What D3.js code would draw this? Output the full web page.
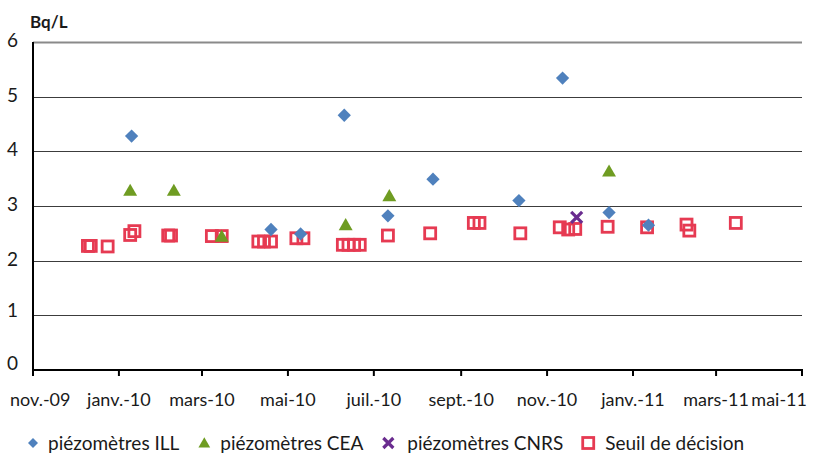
<!DOCTYPE html>
<html>
<head>
<meta charset="utf-8">
<script src="https://cdn.jsdelivr.net/npm/d3@7"></script>
<style>
  html, body { margin: 0; padding: 0; background: #fff; }
  svg { display: block; font-family: Lato, "Open Sans", sans-serif; }
</style>
</head>
<body>
<svg id="chart" width="813" height="455"></svg>
<script>
// ---- data ----
const illDates   = ["2010-01-10","2010-04-19","2010-05-10","2010-06-10","2010-07-11","2010-08-12","2010-10-12","2010-11-12","2010-12-15","2011-01-12"];
const illValues  = [4.28, 2.57, 2.49, 4.66, 2.82, 3.49, 3.10, 5.34, 2.88, 2.65];

const ceaDates   = ["2010-01-09","2010-02-09","2010-03-15","2010-06-11","2010-07-12","2010-12-15"];
const ceaValues  = [3.28, 3.28, 2.44, 2.65, 3.18, 3.63];

const cnrsDates  = ["2010-11-22"];
const cnrsValues = [2.79];

const seuilDates = ["2009-12-10","2009-12-12","2009-12-24","2010-01-09","2010-01-12","2010-02-05","2010-02-07",
                    "2010-03-08","2010-03-15","2010-04-10","2010-04-14","2010-04-19","2010-05-07","2010-05-12",
                    "2010-06-09","2010-06-13","2010-06-17","2010-06-21","2010-07-11","2010-08-10","2010-09-10",
                    "2010-09-14","2010-10-13","2010-11-10","2010-11-16","2010-11-21","2010-12-14","2011-01-11",
                    "2011-02-08","2011-02-10","2011-03-15"];
const seuilValues = [2.27, 2.27, 2.26, 2.47, 2.54, 2.46, 2.46,
                     2.45, 2.45, 2.35, 2.35, 2.35, 2.41, 2.41,
                     2.29, 2.29, 2.29, 2.29, 2.46, 2.50, 2.69,
                     2.69, 2.50, 2.61, 2.57, 2.58, 2.62, 2.61,
                     2.66, 2.55, 2.69];

const xTickDates = ["2009-11-01","2010-01-01","2010-03-01","2010-05-01","2010-07-01","2010-09-01","2010-11-01","2011-01-01","2011-03-01","2011-05-01"];
const yTicks = [0, 1, 2, 3, 4, 5, 6];
const seriesNames = ["piézomètres ILL", "piézomètres CEA", "piézomètres CNRS", "Seuil de décision"];
const unitLabel = "Bq/L";

// ---- setup ----
const parse = d3.utcParse("%Y-%m-%d");
const fr = d3.timeFormatLocale({
  dateTime: "%A %e %B %Y à %X", date: "%d/%m/%Y", time: "%H:%M:%S", periods: ["AM","PM"],
  days: ["dimanche","lundi","mardi","mercredi","jeudi","vendredi","samedi"],
  shortDays: ["dim.","lun.","mar.","mer.","jeu.","ven.","sam."],
  months: ["janvier","février","mars","avril","mai","juin","juillet","août","septembre","octobre","novembre","décembre"],
  shortMonths: ["janv.","févr.","mars","avr.","mai","juin","juil.","août","sept.","oct.","nov.","déc."]
});
const fmt = fr.utcFormat("%b-%y");

const svg = d3.select("#chart");
const plotL = 33, plotR = 802, plotT = 42, plotB = 370;

const x = d3.scaleUtc().domain([parse(xTickDates[0]), parse(xTickDates[xTickDates.length-1])]).range([plotL, plotR]);
const y = d3.scaleLinear().domain([0, 6]).range([plotB, plotT]);

const colors = { ill: "#4f81bd", cea: "#6f9c22", cnrs: "#6a2c8f", seuil: "#e63a52" };

// gridlines
svg.append("g").selectAll("line").data(yTicks.filter(v => v > 0)).join("line")
  .attr("x1", plotL).attr("x2", plotR)
  .attr("y1", d => Math.round(y(d)) + 0.5).attr("y2", d => Math.round(y(d)) + 0.5)
  .attr("stroke", d => d === 6 ? "#8a8a8a" : "#3c3c3c")
  .attr("stroke-width", d => d === 6 ? 1.8 : 1);

// y labels
svg.append("g").selectAll("text").data(yTicks).join("text")
  .attr("x", 18).attr("y", d => y(d) + (d === 0 ? 0 : d === 1 ? 2 : 5))
  .attr("text-anchor", "end")
  .attr("font-size", 19).attr("fill", "#1a1a1a")
  .text(d => d);

// unit label
svg.append("text").attr("x", 30).attr("y", 28)
  .attr("font-size", 17).attr("font-weight", "bold").attr("fill", "#1a1a1a")
  .text(unitLabel);

// axes lines
svg.append("line").attr("x1", plotL).attr("x2", plotL).attr("y1", plotT).attr("y2", plotB + 1)
  .attr("stroke", "#000").attr("stroke-width", 2);
svg.append("line").attr("x1", plotL - 1).attr("x2", plotR + 1).attr("y1", plotB).attr("y2", plotB)
  .attr("stroke", "#000").attr("stroke-width", 2);

// x ticks
const tickDates = xTickDates.map(parse);
svg.append("g").selectAll("line").data(tickDates).join("line")
  .attr("x1", d => x(d)).attr("x2", d => x(d))
  .attr("y1", plotB).attr("y2", plotB + 6)
  .attr("stroke", "#000").attr("stroke-width", 2);

// x labels (centered, kept inside the picture)
svg.append("g").selectAll("text").data(tickDates).join("text")
  .attr("y", 406)
  .attr("font-size", 18).attr("fill", "#1a1a1a")
  .attr("text-anchor", "start")
  .text(d => fmt(d))
  .each(function(d) {
    const w = this.getComputedTextLength();
    let x0 = x(d) - w / 2;
    x0 = Math.max(10, Math.min(807 - w, x0));
    d3.select(this).attr("x", x0);
  });

// symbols
const diamond = d3.symbol().type(d3.symbolSquare).size(88);
const triangle = d3.symbol().type(d3.symbolTriangle).size(84);

function zip(ds, vs) { return ds.map((d, i) => ({ date: parse(d), value: vs[i] })); }

const seuil = zip(seuilDates, seuilValues);
const ill = zip(illDates, illValues);
const cea = zip(ceaDates, ceaValues);
const cnrs = zip(cnrsDates, cnrsValues);

function drawSquare(sel) {
  sel.attr("width", 11).attr("height", 11)
     .attr("fill", "none").attr("stroke", colors.seuil).attr("stroke-width", 2.8);
}
function drawX(g, s) {
  g.append("path").attr("d", `M${-s},${-s}L${s},${s}M${-s},${s}L${s},${-s}`)
    .attr("stroke", colors.cnrs).attr("stroke-width", 3.2).attr("fill", "none");
}

svg.append("g").selectAll("rect").data(seuil).join("rect")
  .attr("x", d => x(d.date) - 5.5).attr("y", d => y(d.value) - 5.5)
  .call(drawSquare);

svg.append("g").selectAll("path").data(ill).join("path")
  .attr("d", diamond)
  .attr("transform", d => `translate(${x(d.date)},${y(d.value)}) rotate(45)`)
  .attr("fill", colors.ill);

svg.append("g").selectAll("path").data(cea).join("path")
  .attr("d", triangle)
  .attr("transform", d => `translate(${x(d.date)},${y(d.value) + 1})`)
  .attr("fill", colors.cea);

svg.append("g").selectAll("g").data(cnrs).join("g")
  .attr("transform", d => `translate(${x(d.date)},${y(d.value)})`)
  .each(function() { drawX(d3.select(this), 5.5); });

// legend
const legY = 443;
const leg = svg.append("g").attr("font-size", 19).attr("fill", "#1a1a1a");
let cx = 33;
seriesNames.forEach((name, i) => {
  const g = leg.append("g").attr("transform", `translate(${cx},${legY})`);
  if (i === 0) g.append("path").attr("d", d3.symbol().type(d3.symbolSquare).size(50)).attr("transform", "rotate(45)").attr("fill", colors.ill);
  if (i === 1) g.append("path").attr("d", d3.symbol().type(d3.symbolTriangle).size(60)).attr("transform", "translate(0,1)").attr("fill", colors.cea);
  if (i === 2) drawX(g, 5);
  if (i === 3) g.append("rect").attr("x", -5.5).attr("y", -5.5).call(drawSquare);
  const gap = [15, 16, 19, 17][i];
  const t = g.append("text").attr("x", gap).attr("y", 7).text(name);
  cx += gap + t.node().getComputedTextLength() + 25;
});
</script>
</body>
</html>
